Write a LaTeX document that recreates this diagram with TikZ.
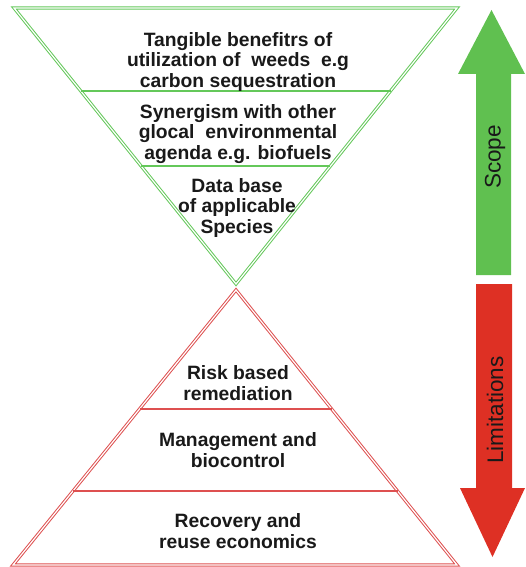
\documentclass[tikz,border=0pt]{standalone}
\usepackage{fontspec}
\setmainfont{Liberation Sans}
\usetikzlibrary{calc}
\definecolor{triGreen}{RGB}{100,200,90}
\definecolor{arrGreen}{RGB}{96,192,80}
\definecolor{triRed}{RGB}{222,80,80}
\definecolor{arrRed}{RGB}{222,48,36}
\tikzset{
  txt/.style={align=center, font=\bfseries\fontsize{19.3}{20.6}\selectfont, text=black!90, inner sep=0pt},
  tri/.style={double=white, double distance=1.2pt, line width=1pt, line join=miter},
  sep/.style={line width=1.1pt},
  lbl/.style={font=\fontsize{22.5}{24}\selectfont, rotate=90, text=black!90, inner sep=0pt}
}
\begin{document}
\begin{tikzpicture}[x=1pt,y=-1pt]
\useasboundingbox (0,0) rectangle (526,567);
% green inverted triangle
\coordinate (gL) at (14,8);
\coordinate (gR) at (457,8);
\coordinate (gA) at (236,284);
\draw[tri, draw=triGreen] (gL) -- (gR) -- (gA) -- cycle;
\draw[sep, draw=triGreen] ($(gL)!0.3007!(gA)$) -- ($(gR)!0.3007!(gA)$);
\draw[sep, draw=triGreen] ($(gL)!0.5725!(gA)$) -- ($(gR)!0.5725!(gA)$);
% red triangle
\coordinate (rA) at (236,290);
\coordinate (rL) at (13,565);
\coordinate (rR) at (457,565);
\draw[tri, draw=triRed] (rA) -- (rR) -- (rL) -- cycle;
\draw[sep, draw=triRed] ($(rA)!0.4327!(rL)$) -- ($(rA)!0.4327!(rR)$);
\draw[sep, draw=triRed] ($(rA)!0.7309!(rL)$) -- ($(rA)!0.7309!(rR)$);
% texts
\node[txt] (t1) at (238,62) {Tangible benefitrs of\\utilization of\ \ weeds\ \ e.g\\carbon sequestration};
\node[txt] (t2) at (238,134) {Synergism with other\\glocal\ \ environmental\\agenda e.g. biofuels};
\node[txt] (t3) at (237,208) {Data base\\of applicable\\Species};
\node[txt] (t4) at (238,383) {Risk based\\remediation};
\node[txt] (t5) at (238,450) {Management and\\biocontrol};
\node[txt] (t6) at (238,531) {Recovery and\\reuse economics};
% arrows
\fill[arrGreen] (476,275) -- (476,74) -- (458,74) -- (491.5,10) -- (525,74) -- (511,74) -- (511,275) -- cycle;
\fill[arrRed] (476,284) -- (476,488) -- (460,488) -- (492.5,557) -- (525,488) -- (512,488) -- (512,284) -- cycle;
\node[lbl] (scope) at (495,157) {Scope};
\node[lbl] (lim) at (495,410) {Limitations};
\end{tikzpicture}
\end{document}
